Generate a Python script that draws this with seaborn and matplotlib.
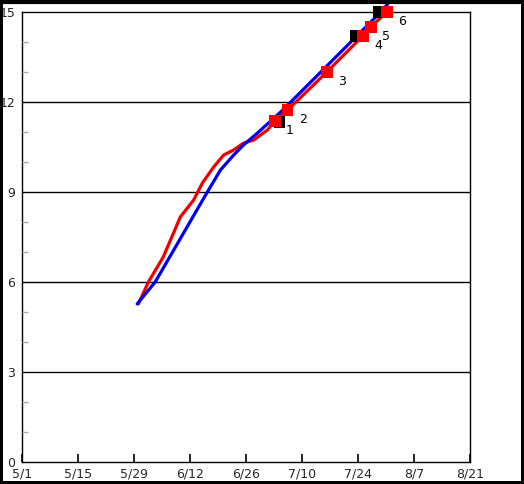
import numpy as np
import pandas as pd
import matplotlib
matplotlib.use("Agg")
import matplotlib.pyplot as plt
import seaborn as sns

# days counted from 5/1
blue_day = [28.8, 33.3, 39.6, 45.9, 49.6, 52.9, 55.4, 58.9, 64.7, 67.2, 89.7, 95.5]
blue_val = [5.27, 6.0, 7.45, 8.9, 9.73, 10.23, 10.57, 10.97, 11.67, 12.0, 15.0, 15.9]

red_day = [29.1, 31.6, 35.3, 39.6, 42.9, 45.1, 47.9, 50.4, 52.9, 55.4, 57.9, 61.4,
           63.2, 66.4, 76.2, 85.2, 87.2, 91.2]
red_val = [5.27, 6.0, 6.83, 8.17, 8.73, 9.3, 9.83, 10.23, 10.4, 10.63, 10.73, 11.07,
           11.37, 11.73, 13.0, 14.2, 14.5, 15.0]

# numbered points
pt_labels = ["1", "2", "3", "4", "5", "6"]
red_pt_day = [63.2, 66.4, 76.2, 85.2, 87.2, 91.2]
red_pt_val = [11.37, 11.73, 13.0, 14.2, 14.5, 15.0]
blk_pt_day = [64.4, 66.4, 76.2, 83.5, 87.2, 89.2]
blk_pt_val = [11.33, 11.73, 13.0, 14.2, 14.5, 15.0]

tick_days = [0, 14, 28, 42, 56, 70, 84, 98, 112]
tick_labels = ["5/1", "5/15", "5/29", "6/12", "6/26", "7/10", "7/24", "8/7", "8/21"]
y_major = [0, 3, 6, 9, 12, 15]

sns.set_style("ticks", {"xtick.bottom": True, "ytick.left": True,
                        "xtick.direction": "in", "ytick.direction": "in"})
plt.rcParams['font.family'] = ['DejaVu Sans']

fig = plt.figure(figsize=(5.24, 4.84), dpi=100)
fig.patch.set_facecolor("white")
ax = fig.add_axes([22 / 524, 22 / 484, 448 / 524, 450 / 484])

for v in [3, 6, 9, 12]:
    ax.axhline(v, color="black", lw=1, zorder=1)

red_df = pd.DataFrame({"day": red_day, "val": red_val})
blue_df = pd.DataFrame({"day": blue_day, "val": blue_val})
sns.lineplot(data=red_df, x="day", y="val", sort=False, estimator=None,
             color="#ee0000", lw=2.3, ax=ax, zorder=3)
sns.lineplot(data=blue_df, x="day", y="val", sort=False, estimator=None,
             color="#0000ee", lw=2.3, ax=ax, zorder=4)
for ln in ax.lines[-2:]:
    ln.set_clip_on(False)

sns.scatterplot(x=blk_pt_day, y=blk_pt_val, marker="s", s=70, color="black",
                edgecolor="none", ax=ax, zorder=5, clip_on=False)
sns.scatterplot(x=red_pt_day, y=red_pt_val, marker="s", s=70, color="#ff0000",
                edgecolor="none", ax=ax, zorder=6, clip_on=False)

for lab, d, v in zip(pt_labels, red_pt_day, red_pt_val):
    ax.annotate(lab, (d, v), xytext=(11, -7), textcoords="offset points",
                ha="center", va="center", fontsize=9, color="black")

ax.set_xlim(0, 112)
ax.set_ylim(0, 15)
ax.set_xticks(tick_days)
ax.set_xticklabels(tick_labels)
ax.set_yticks(y_major)
ax.set_yticklabels([str(v) for v in y_major])
ax.set_yticks(np.arange(0, 16, 1), minor=True)
ax.tick_params(axis="x", which="major", direction="in", length=6, width=1,
               color="black", labelsize=9, pad=4, top=False, bottom=True)
ax.tick_params(axis="y", which="major", direction="in", length=0,
               labelsize=9, pad=5, left=True)
ax.tick_params(axis="y", which="minor", direction="in", length=4, width=1,
               color="#aaaaaa", left=True)
ax.set_xlabel("")
ax.set_ylabel("")
for s in ax.spines.values():
    s.set_visible(True)
    s.set_color("black")
    s.set_linewidth(1)
ax.set_axisbelow(False)
for t in ax.xaxis.get_major_ticks():
    t.tick1line.set_visible(True)
    t.tick1line.set_markersize(6)
    t.tick1line.set_markeredgewidth(1.2)
    t.tick1line.set_color("black")

fig.patch.set_edgecolor("black")
fig.patch.set_linewidth(3)
fig.add_artist(plt.Line2D([0, 1], [1 - 1.5 / 484, 1 - 1.5 / 484],
                          transform=fig.transFigure, color="black", lw=3))

fig.savefig("out.png", dpi=100, edgecolor=fig.get_edgecolor())
